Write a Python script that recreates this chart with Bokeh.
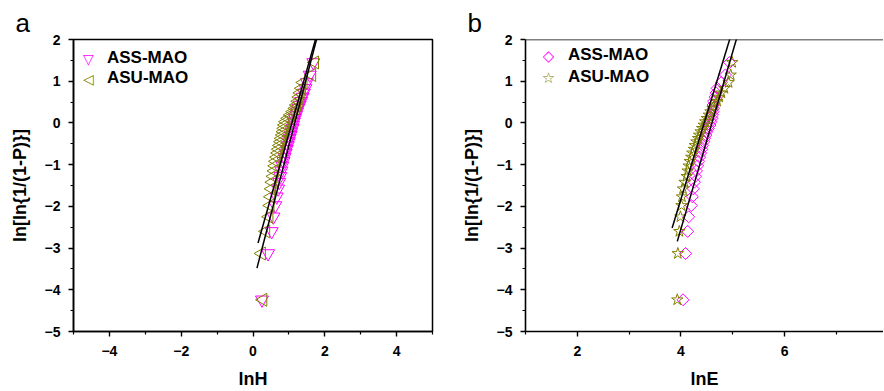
import math
from bokeh.plotting import figure
from bokeh.layouts import row
from bokeh.models import FixedTicker, Legend, LegendItem, Label, Span, Range1d
from bokeh.embed import file_html
from bokeh.resources import INLINE

# ---------------- data ----------------
weibull_y = [-4.24, -3.13, -2.60, -2.25, -1.98, -1.77, -1.58, -1.42, -1.28, -1.15,
             -1.03, -0.92, -0.82, -0.72, -0.63, -0.54, -0.45, -0.37, -0.29, -0.21,
             -0.13, -0.05, 0.03, 0.11, 0.19, 0.27, 0.35, 0.43, 0.52, 0.62,
             0.72, 0.83, 0.97, 1.15, 1.45]

lnH_ass = [0.25, 0.42, 0.52, 0.57, 0.62, 0.66, 0.70, 0.73, 0.76, 0.79,
           0.82, 0.85, 0.88, 0.91, 0.94, 0.97, 1.00, 1.02, 1.05, 1.07,
           1.10, 1.12, 1.14, 1.17, 1.20, 1.23, 1.26, 1.30, 1.34, 1.38,
           1.42, 1.46, 1.50, 1.58, 1.68]
lnH_asu = [0.28, 0.24, 0.36, 0.45, 0.48, 0.50, 0.52, 0.54, 0.57, 0.60,
           0.62, 0.64, 0.67, 0.70, 0.72, 0.75, 0.78, 0.80, 0.83, 0.85,
           0.87, 0.89, 0.92, 0.98, 1.05, 1.12, 1.18, 1.22, 1.26, 1.29,
           1.32, 1.36, 1.40, 1.64, 1.72]

lnE_ass = [4.04, 4.09, 4.13, 4.15, 4.20, 4.22, 4.24, 4.26, 4.28, 4.30,
           4.32, 4.34, 4.36, 4.38, 4.40, 4.42, 4.44, 4.46, 4.48, 4.50,
           4.53, 4.56, 4.58, 4.60, 4.61, 4.62, 4.63, 4.62, 4.63, 4.66,
           4.68, 4.70, 4.78, 4.86, 4.94]
lnE_asu = [3.93, 3.94, 3.97, 3.99, 4.01, 4.02, 4.04, 4.07, 4.11, 4.13,
           4.15, 4.17, 4.20, 4.22, 4.25, 4.27, 4.30, 4.33, 4.35, 4.38,
           4.41, 4.44, 4.47, 4.50, 4.54, 4.57, 4.61, 4.65, 4.70, 4.74,
           4.78, 4.84, 4.92, 4.96, 4.99]

# fitted straight lines (end points)
fitH_ass_x = [0.11, 1.80]
fitH_ass_y = [-3.48, 2.10]
fitH_asu_x = [0.14, 1.77]
fitH_asu_y = [-2.88, 2.09]
fitE_ass_x = [3.93, 5.10]
fitE_ass_y = [-2.84, 2.13]
fitE_asu_x = [3.83, 4.97]
fitE_asu_y = [-2.52, 2.12]

series_names = ["ASS-MAO", "ASU-MAO"]
y_ticks = [-5, -4, -3, -2, -1, 0, 1, 2]
y_minor = [-4.5, -3.5, -2.5, -1.5, -0.5, 0.5, 1.5]
xa_ticks = [-4, -2, 0, 2, 4]
xa_minor = [-5, -3, -1, 1, 3, 5]
xb_ticks = [2, 4, 6]
xb_minor = [1, 3, 5, 7]

MAG = "#FF00FF"
OLV = "#808000"
FONT = "Liberation Sans"


def style_axes(p, xticks, xminor):
    p.xaxis.ticker = FixedTicker(ticks=xticks, minor_ticks=xminor)
    p.yaxis.ticker = FixedTicker(ticks=y_ticks, minor_ticks=y_minor)
    for ax in (p.xaxis[0], p.yaxis[0]):
        ax.axis_line_width = 1.6
        ax.axis_line_color = "black"
        ax.major_tick_line_width = 1.4
        ax.minor_tick_line_width = 1.2
        ax.major_tick_in = 0
        ax.major_tick_out = 5
        ax.minor_tick_in = 0
        ax.minor_tick_out = 3
        ax.major_label_text_font = FONT
        ax.major_label_text_font_style = "bold"
        ax.major_label_text_font_size = "14px"
        ax.major_label_text_color = "black"
        ax.axis_label_text_font = FONT
        ax.axis_label_text_font_style = "bold"
        ax.axis_label_text_font_size = "18px"
        ax.axis_label_text_color = "black"
    p.xaxis.major_label_standoff = 9
    p.xaxis.axis_label_standoff = 10
    p.yaxis.major_label_standoff = 8
    p.yaxis.axis_label_standoff = 12
    p.xgrid.visible = False
    p.ygrid.visible = False


def panel_title(p, letter, offset, standoff):
    p.title.text = letter
    p.title.align = "left"
    p.title.offset = offset
    p.title.standoff = standoff
    p.title.text_font = FONT
    p.title.text_font_style = "normal"
    p.title.text_font_size = "26px"
    p.title.text_color = "black"


def add_legend(p, symbols, colors, sym_sizes, sym_x, sym_y, m, gw, gh, standoff):
    dummies = [p.scatter([], [], marker="circle", size=1, line_alpha=0, fill_alpha=0)
               for _ in series_names]
    lg = Legend(items=[LegendItem(label=n, renderers=[d]) for n, d in zip(series_names, dummies)],
                location="top_left", margin=m, padding=0, glyph_width=gw, glyph_height=gh,
                spacing=0, label_standoff=standoff, border_line_color=None,
                background_fill_alpha=0)
    lg.label_text_font = FONT
    lg.label_text_font_style = "bold"
    lg.label_text_font_size = "17px"
    lg.label_text_baseline = "middle"
    lg.label_text_color = "black"
    p.add_layout(lg)
    for s, c, fs, yy in zip(symbols, colors, sym_sizes, sym_y):
        p.add_layout(Label(x=sym_x, y=yy, x_units="screen", y_units="screen", text=s,
                           text_color=c, text_font="DejaVu Sans", text_font_size=fs,
                           text_align="center", text_baseline="middle"))


# ---------------- panel a ----------------
pa = figure(frame_width=359, frame_height=292, output_backend="svg",
            toolbar_location=None, x_range=Range1d(-5, 5), y_range=Range1d(-5, 2),
            min_border_left=73, min_border_right=26, min_border_top=39,
            min_border_bottom=58, x_axis_label="lnH",
            y_axis_label="ln[ln{1/(1-P)}]")
style_axes(pa, xa_ticks, xa_minor)
pa.outline_line_color = "black"
pa.outline_line_width = 1.5
pa.outline_line_alpha = 1
panel_title(pa, "a", -58, 4)

pa.scatter(lnH_ass, weibull_y, marker="inverted_triangle", size=13,
           line_color=MAG, fill_color=None, line_width=1)
pa.scatter(lnH_asu, weibull_y, marker="triangle", angle=math.pi / 2, size=13,
           line_color=OLV, fill_color=None, line_width=1)
pa.line(fitH_ass_x, fitH_ass_y, line_color="black", line_width=1.5)
pa.line(fitH_asu_x, fitH_asu_y, line_color="black", line_width=1.5)
add_legend(pa, ["\u25BD", "\u25C1"], [MAG, OLV], ["14px", "14px"], 15, [273, 253],
           m=9, gw=20, gh=20, standoff=5)

# ---------------- panel b ----------------
pb = figure(frame_width=358, frame_height=292, output_backend="svg",
            toolbar_location=None, x_range=Range1d(1, 7.91), y_range=Range1d(-5, 2),
            min_border_left=67, min_border_right=0, min_border_top=39,
            min_border_bottom=58, x_axis_label="lnE",
            y_axis_label="ln[ln{1/(1-P)}]")
style_axes(pb, xb_ticks, xb_minor)
pb.outline_line_color = None
pb.add_layout(Span(location=2, dimension="width", line_color="black", line_width=1.6))
panel_title(pb, "b", -58, 4)

pb.scatter(lnE_ass, weibull_y, marker="square", angle=math.pi / 4, size=8.5,
           line_color=MAG, fill_color=None, line_width=1)
pb.scatter(lnE_asu, weibull_y, marker="star", size=12,
           line_color=OLV, fill_color=None, line_width=1)
pb.line(fitE_ass_x, fitE_ass_y, line_color="black", line_width=1.5)
pb.line(fitE_asu_x, fitE_asu_y, line_color="black", line_width=1.5)
add_legend(pb, ["\u25C7", "\u2606"], [MAG, OLV], ["15px", "15px"], 23, [276, 254],
           m=5, gw=33, gh=22, standoff=5)

layout = row(pa, pb, spacing=0)
open("out.html", "w").write(file_html(layout, INLINE))
